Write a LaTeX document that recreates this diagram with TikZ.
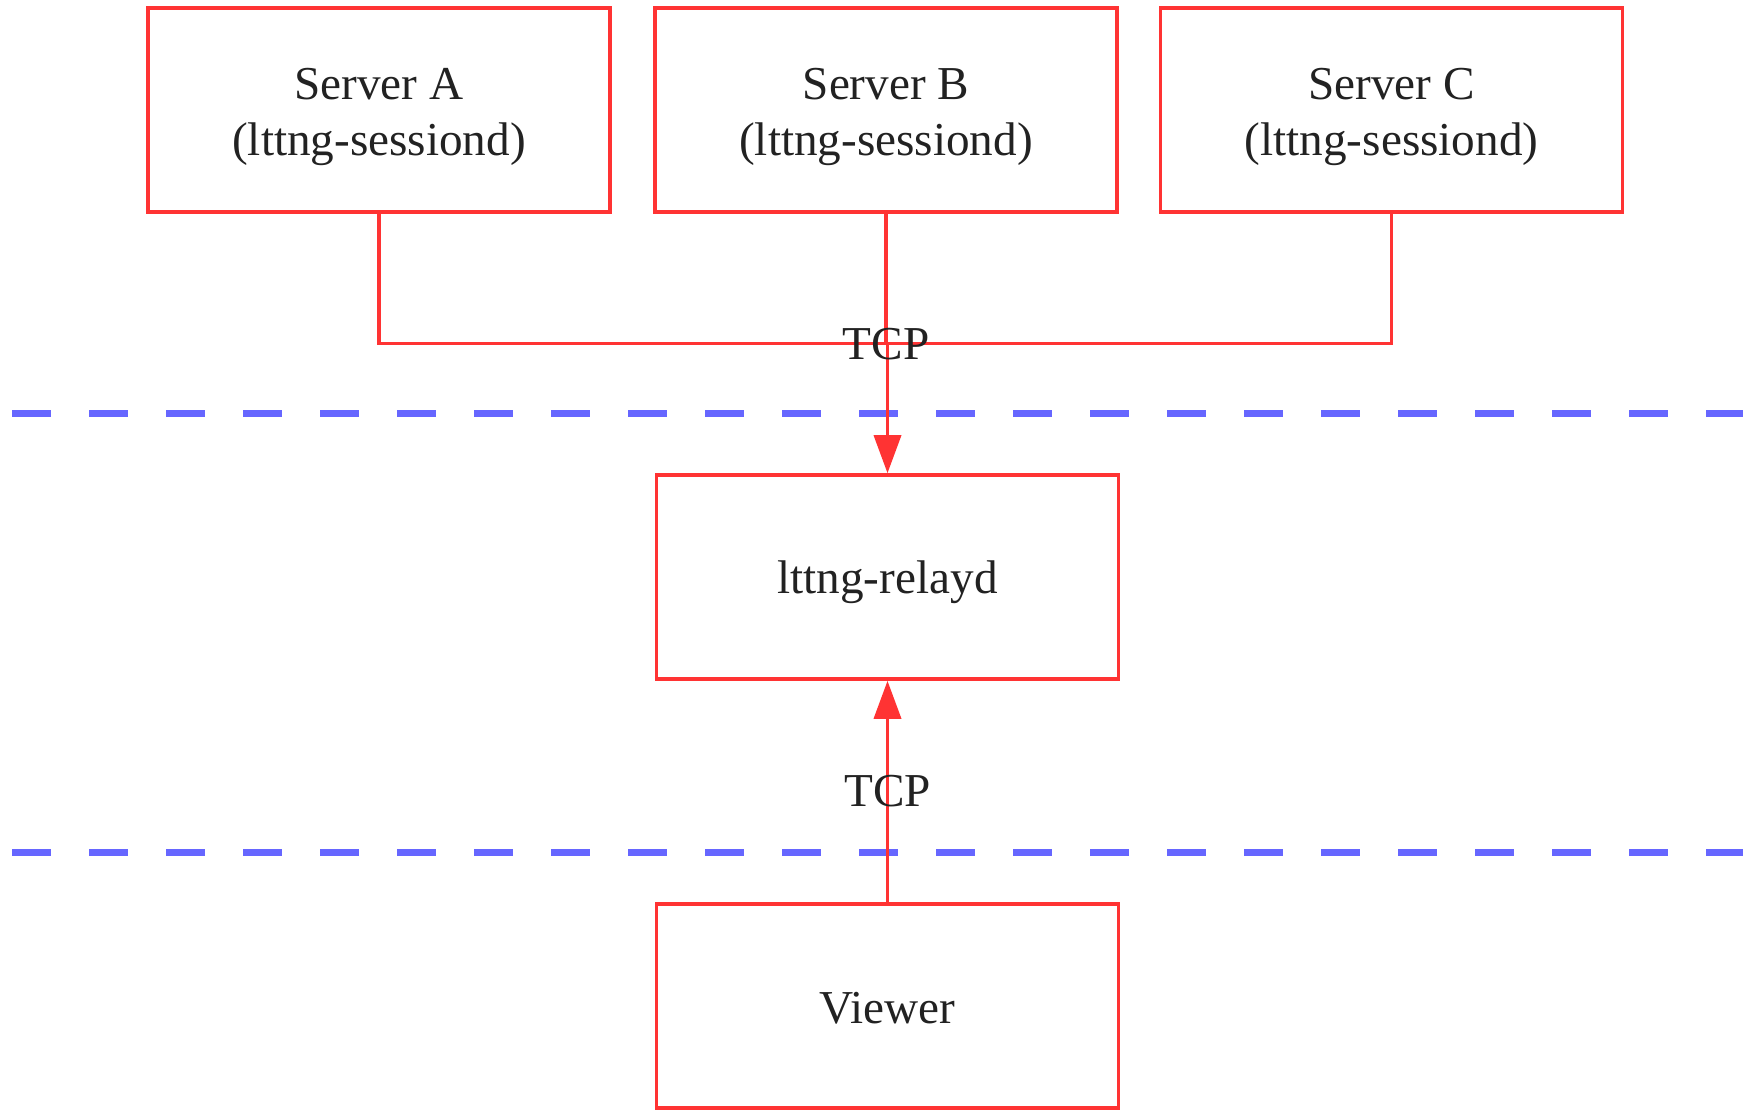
\documentclass[tikz,border=0pt]{standalone}
\usepackage{fontspec}
\setmainfont{Liberation Serif}
\usetikzlibrary{arrows.meta}
\definecolor{boxred}{HTML}{FF3333}
\definecolor{sepblue}{HTML}{6666FF}
\definecolor{txt}{HTML}{222222}
\begin{document}
\begin{tikzpicture}[x=1pt,y=-1pt,
  proc/.style={draw=boxred, line width=3.6pt, rectangle, minimum width=462pt, minimum height=204pt, inner sep=0pt},
  link/.style={draw=boxred, line width=3.6pt},
  arr/.style={link, -{Triangle[length=38pt,width=27pt]}},
  sep/.style={draw=sepblue, line width=7pt, dash pattern=on 38.5pt off 38.5pt},
  lbl/.style={text=txt, font=\fontsize{47.2}{55.6}\selectfont, inner sep=0pt, align=center}]
\useasboundingbox (0,0) rectangle (1743,1109);
\fill[white] (0,0) rectangle (1743,1109);
% separators
\coordinate (s1a) at (12,413.5);
\coordinate (s1b) at (1743,413.5);
\coordinate (s2a) at (12,852.5);
\coordinate (s2b) at (1743,852.5);
\draw[sep] (s1a) -- (s1b);
\draw[sep] (s2a) -- (s2b);
% boxes
\node[proc] (A) at (379,110) {};
\node[proc] (B) at (886,110) {};
\node[proc] (C) at (1391.5,110) {};
\node[proc] (R) at (887.5,577) {};
\node[proc] (V) at (887.5,1006) {};
% box texts
\node[lbl, yshift=-6.7pt] (At) at (A.center) {Server A\\(lttng-sessiond)};
\node[lbl, yshift=-6.7pt] (Bt) at (B.center) {Server B\\(lttng-sessiond)};
\node[lbl, yshift=-6.7pt] (Ct) at (C.center) {Server C\\(lttng-sessiond)};
\node[lbl, anchor=base] (Rt) at (887.5,593) {lttng-relayd};
\node[lbl, anchor=base] (Vt) at (887.5,1023) {Viewer};
% connectors
\coordinate (J) at (886,343.5);
\draw[link] (A.south) -- (A.south |- J) -- (C.south |- J) -- (C.south);
\draw[link] (B.south) -- (J);
\draw[arr] (R.north |- J) -- (R.north);
\draw[arr] (V.north) -- (R.south);
% labels
\node[lbl, anchor=base] (t1) at (886,359) {TCP};
\node[lbl, anchor=base] (t2) at (887.5,806) {TCP};
\end{tikzpicture}
\end{document}
